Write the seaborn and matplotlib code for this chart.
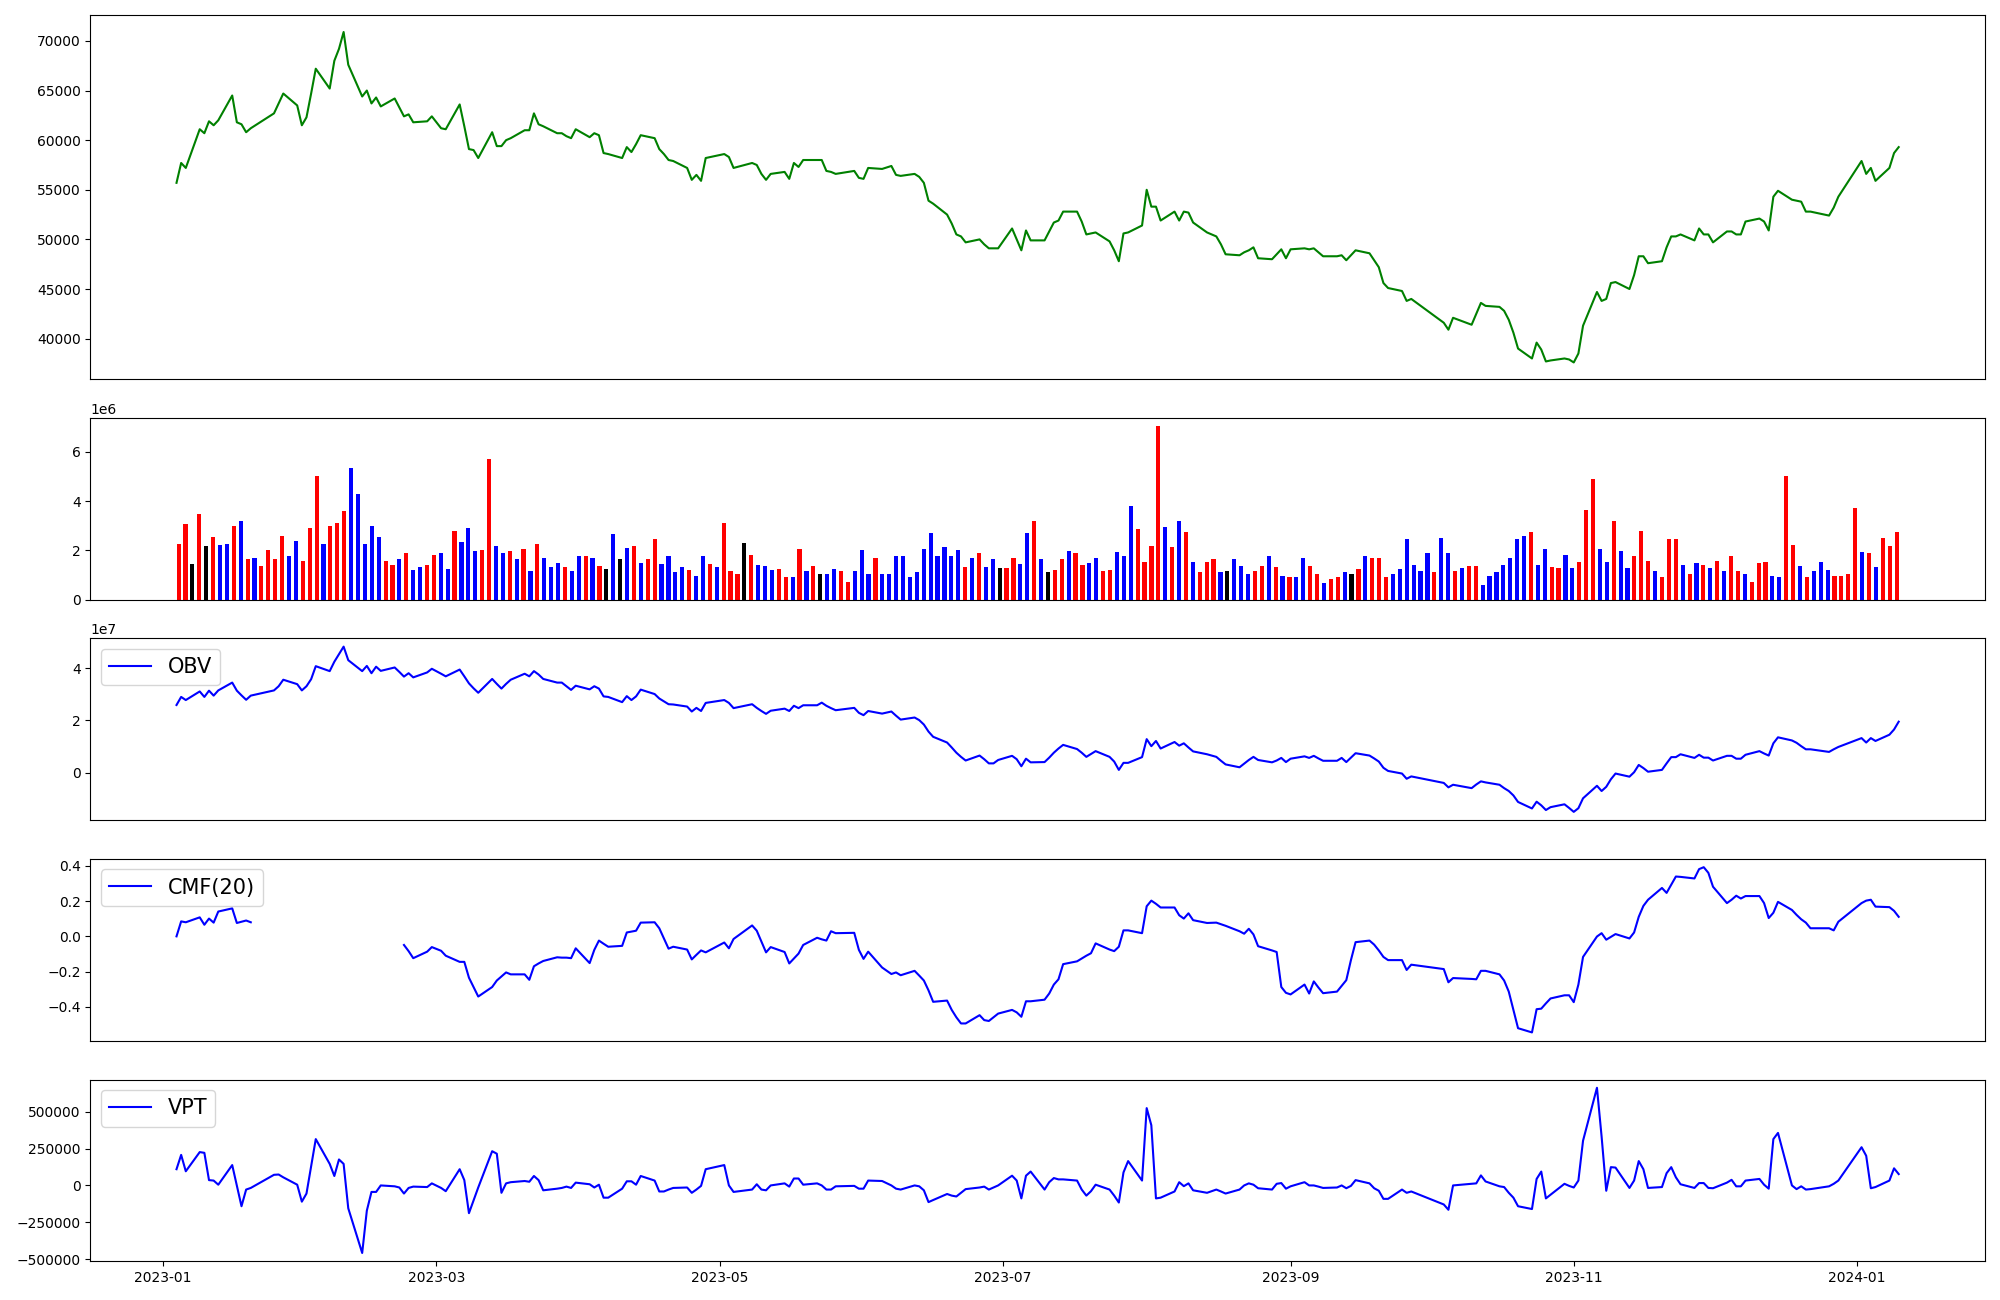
import numpy as np
import pandas as pd
import matplotlib
matplotlib.use("Agg")
import matplotlib.pyplot as plt
import seaborn as sns

# ---------------- trading calendar (KRX, 2023-01-04 .. 2024-01-10) ----------------
holidays = ["2023-01-23", "2023-01-24", "2023-03-01", "2023-05-01", "2023-05-05",
            "2023-05-29", "2023-06-06", "2023-08-15", "2023-09-28", "2023-09-29",
            "2023-10-02", "2023-10-03", "2023-10-09", "2023-12-25", "2023-12-29",
            "2024-01-01"]
trade_days = pd.bdate_range("2023-01-04", "2024-01-10")
trade_days = trade_days[~trade_days.isin(pd.to_datetime(holidays))]

# ---------------- close price ----------------
close = [
    # Jan 2023
    55700, 57700, 57200, 61100, 60700, 61900, 61500, 62000, 64500, 61800, 61600, 60800, 61200,
    62700, 63700, 64700, 63500, 61500,
    # Feb
    62300, 64700, 67200, 65200, 68000, 69200, 70900, 67600, 64400, 65000, 63700, 64300, 63400,
    64200, 63300, 62400, 62600, 61800, 61900, 62400,
    # Mar
    61200, 61100, 63600, 61400, 59100, 59000, 58200, 60800, 59400, 59400, 60000, 60200, 61000,
    61000, 62700, 61600, 61400, 60700, 60700, 60400, 60200, 61100,
    # Apr
    60300, 60700, 60500, 58700, 58600, 58200, 59300, 58800, 59600, 60500, 60200, 59100, 58600,
    58000, 57900, 57200, 56000, 56500, 55900, 58200,
    # May
    58600, 58300, 57200, 57700, 57500, 56600, 56000, 56600, 56800, 56100, 57700, 57300, 58000,
    58000, 58000, 56900, 56800, 56600, 56900, 56200,
    # Jun
    56100, 57200, 57100, 57400, 56500, 56400, 56600, 56300, 55700, 53900, 53600, 52500, 51600,
    50500, 50300, 49700, 50000, 49500, 49100, 49100, 49100,
    # Jul
    51100, 50000, 48900, 50900, 49900, 49900, 50800, 51700, 51900, 52800, 52800, 51800, 50500,
    50600, 50700, 49800, 48900, 47800, 50600, 50700, 51400,
    # Aug
    55000, 53300, 53300, 51900, 52800, 51900, 52800, 52700, 51700, 50700, 50300, 49500, 48500,
    48400, 48700, 48900, 49200, 48100, 48000, 48500, 49000, 48100,
    # Sep
    49000, 49100, 49000, 49100, 48700, 48300, 48300, 48400, 47900, 48400, 48900, 48600, 47900,
    47200, 45600, 45100, 44800, 43800, 44000,
    # Oct
    41600, 40900, 42100, 41400, 42500, 43600, 43300, 43200, 42800, 41900, 40600, 39000, 38000,
    39600, 38900, 37700, 37800, 38000, 37900,
    # Nov
    37600, 38500, 41300, 44700, 43800, 44000, 45600, 45700, 45000, 46400, 48300, 48300, 47600,
    47800, 49200, 50300, 50300, 50500, 49900, 51100, 50500, 50500,
    # Dec
    49700, 50800, 50800, 50500, 50500, 51800, 52100, 51800, 50900, 54300, 54900, 54000, 53900,
    53800, 52800, 52800, 52400, 53200, 54300,
    # Jan 2024
    57900, 56600, 57200, 55900, 57200, 58700, 59300,
]

# ---------------- volume (millions) and bar colour codes ----------------
volume_m = [
    2.27, 3.07, 1.46, 3.48, 2.19, 2.55, 2.22, 2.27, 3.00, 3.19,
    1.66, 1.70, 1.38, 2.02, 1.66, 2.58, 1.78, 2.39, 1.58, 2.92,
    5.01, 2.27, 3.00, 3.12, 3.60, 5.33, 4.29, 2.27, 3.00, 2.55,
    1.58, 1.41, 1.66, 1.90, 1.22, 1.34, 1.41, 1.82, 1.87, 1.26,
    2.80, 2.34, 2.92, 1.99, 2.02, 5.70, 2.19, 1.90, 1.99, 1.66,
    2.07, 1.14, 2.27, 1.70, 1.34, 1.50, 1.34, 1.17, 1.75, 1.75,
    1.70, 1.38,
    1.26, 2.67, 1.66, 2.10, 2.19, 1.50, 1.63, 2.46,
    1.46, 1.75, 1.10, 1.34, 1.22, 0.97, 1.78, 1.46, 1.34, 3.12,
    1.14, 1.05, 2.31, 1.82, 1.41, 1.38, 1.22, 1.26, 0.90, 0.93,
    2.07, 1.14, 1.38, 1.02, 1.02, 1.26, 1.17, 0.73, 1.17, 2.02,
    1.02, 1.70, 1.05, 1.02, 1.75, 1.75, 0.90, 1.10, 2.07, 2.71,
    1.75, 2.14, 1.75, 2.02, 1.34, 1.70, 1.87, 1.34, 1.66, 1.29,
    1.29, 1.70, 1.46, 2.71, 3.17,
    1.63, 1.10, 1.22, 1.66, 1.99,
    1.90, 1.41, 1.50, 1.70, 1.17, 1.22, 1.95, 1.78, 3.80, 2.87,
    1.54, 2.19, 7.03, 2.95, 2.14, 3.17, 2.75, 1.54, 1.10, 1.54,
    1.63, 1.10, 1.14, 1.66, 1.38, 1.02, 1.14, 1.38, 1.75, 1.34,
    0.97, 0.90, 0.90, 1.70, 1.38, 1.05, 0.69, 0.85, 0.93, 1.10,
    1.05, 1.26, 1.75, 1.70, 1.70, 0.90, 1.02, 1.26, 2.46, 1.41,
    1.14, 1.87, 1.10, 2.51, 1.87, 1.14, 1.29, 1.38, 1.38,
    0.61,
    0.97, 1.10, 1.41, 1.70, 2.46, 2.58, 2.75, 1.41, 2.07, 1.34,
    1.29, 1.82, 1.29, 1.54, 3.63, 4.89, 2.07, 1.54, 3.19, 1.99,
    1.29, 1.75, 2.80, 1.58, 1.17, 0.93, 2.46, 2.46, 1.41, 1.02,
    1.50, 1.41, 1.29, 1.58, 1.14, 1.78, 1.17, 1.05, 0.73, 1.50,
    1.54, 0.97, 0.90, 5.01, 2.22, 1.38, 0.93, 1.14, 1.54, 1.22,
    0.97, 0.97, 1.02, 3.72, 1.95, 1.90, 1.34, 2.51, 2.19, 2.75,
]
bar_codes = ("rrkrkrbbrb" "rbrrrrbbrr" "rbrrrbbbbb" "rrbrbbrrbb" "rbbbrrbbrb" "rbrbbbrbbr" "br"
             "kbkbrbrr" "bbbbrbbrbr" "rrkrbbbrrb" "rbrkbbrrbb" "brbbbbbbbb" "bbbbrbrbbk" "rrbbr"
             "bkrrb" "rrbbrrbbbr" "rrrbrbrbrr" "rbkbbbrrbr" "brbbrrbrrb" "krbrrrbbbb" "bbrbbrbrr"
             "b" "bbbbbbrbbr" "rbbrrrbbrb" "brrrbrrrbr" "brbrbrrbrr" "rbbrrbrbbb" "rrrrbrbrrr")

# ---------------- OBV (x1e7) ----------------
obv_e7 = [
    2.59, 2.90, 2.78, 3.11, 2.90, 3.14, 2.95, 3.15, 3.45, 3.14, 2.96, 2.79, 2.95, 3.15, 3.31, 3.56, 3.39, 3.15,
    3.31, 3.58, 4.08, 3.89, 4.25, 4.54, 4.83, 4.31, 3.89, 4.09, 3.81, 4.06, 3.90, 4.03, 3.86, 3.68, 3.81, 3.65, 3.84, 3.98,
    3.79, 3.69, 3.95, 3.69, 3.42, 3.23, 3.06, 3.59, 3.40, 3.22, 3.40, 3.56, 3.79, 3.69, 3.89, 3.76, 3.59, 3.45, 3.45, 3.31, 3.17, 3.33,
    3.19, 3.31, 3.22, 2.92, 2.90, 2.70, 2.93, 2.78, 2.92, 3.18, 3.01, 2.84, 2.73, 2.62, 2.61, 2.53, 2.34, 2.48, 2.36, 2.67,
    2.78, 2.67, 2.47, 2.62, 2.48, 2.36, 2.25, 2.37, 2.45, 2.36, 2.56, 2.47, 2.58, 2.58, 2.68, 2.56, 2.47, 2.39, 2.48, 2.29,
    2.20, 2.36, 2.26, 2.34, 2.18, 2.03, 2.11, 2.01, 1.84, 1.57, 1.37, 1.15, 0.96, 0.76, 0.60, 0.46, 0.65, 0.51, 0.35, 0.35, 0.48,
    0.64, 0.51, 0.24, 0.53, 0.39, 0.40, 0.57, 0.76, 0.92, 1.06, 0.90, 0.76, 0.60, 0.71, 0.82, 0.60, 0.42, 0.10, 0.37, 0.37, 0.59,
    1.28, 1.01, 1.21, 0.92, 1.17, 1.03, 1.12, 0.96, 0.81, 0.70, 0.60, 0.45, 0.31, 0.20, 0.34, 0.48, 0.60, 0.48, 0.39, 0.46, 0.56, 0.40,
    0.53, 0.62, 0.56, 0.64, 0.54, 0.45, 0.45, 0.56, 0.40, 0.57, 0.74, 0.65, 0.54, 0.42, 0.18, 0.06, -0.04, -0.24, -0.15,
    -0.40, -0.57, -0.47, -0.60, -0.46, -0.34, -0.38, -0.47, -0.60, -0.71, -0.88, -1.13, -1.38, -1.12, -1.26, -1.44, -1.33, -1.22, -1.36,
    -1.51, -1.37, -0.99, -0.51, -0.71, -0.55, -0.26, -0.04, -0.16, 0.01, 0.29, 0.17, 0.03, 0.10, 0.35, 0.59, 0.59, 0.70, 0.56, 0.68, 0.57, 0.57,
    0.46, 0.64, 0.64, 0.53, 0.53, 0.68, 0.82, 0.73, 0.65, 1.12, 1.35, 1.23, 1.14, 1.01, 0.89, 0.89, 0.79, 0.89, 0.98,
    1.32, 1.15, 1.32, 1.21, 1.45, 1.65, 1.95,
]

# ---------------- CMF(20) ----------------
nan = float("nan")
cmf20 = [
    0.0, 0.085, 0.080, 0.108, 0.066, 0.101, 0.078, 0.141, 0.159, 0.076, 0.083, 0.090, 0.080, nan, nan, nan, nan, nan,
    nan, nan, nan, nan, nan, nan, nan, nan, nan, nan, nan, nan, nan, nan, nan, -0.049, -0.084, -0.124, -0.087, -0.061,
    -0.082, -0.110, -0.145, -0.145, -0.235, -0.288, -0.342, -0.288, -0.251, -0.228, -0.205, -0.216, -0.216, -0.247, -0.170, -0.154, -0.140, -0.119, -0.121, -0.121, -0.124, -0.068,
    -0.152, -0.077, -0.024, -0.042, -0.059, -0.054, 0.022, 0.027, 0.032, 0.078, 0.080, 0.046, -0.012, -0.070, -0.059, -0.075, -0.131, -0.105, -0.080, -0.091,
    -0.035, -0.068, -0.015, 0.062, 0.032, -0.029, -0.091, -0.061, -0.089, -0.154, -0.126, -0.098, -0.049, -0.008, -0.017, -0.024, 0.029, 0.018, 0.020, -0.077,
    -0.128, -0.087, -0.177, -0.214, -0.205, -0.221, -0.196, -0.223, -0.251, -0.307, -0.372, -0.365, -0.418, -0.460, -0.495, -0.495, -0.448, -0.476, -0.481, -0.460, -0.439,
    -0.418, -0.432, -0.457, -0.369, -0.369, -0.360, -0.325, -0.274, -0.244, -0.158, -0.142, -0.126, -0.110, -0.096, -0.040, -0.075, -0.084, -0.059, 0.034, 0.034, 0.018,
    0.171, 0.203, 0.185, 0.164, 0.164, 0.120, 0.101, 0.131, 0.092, 0.076, 0.078, 0.069, 0.060, 0.029, 0.015, 0.043, 0.011, -0.056, -0.080, -0.089, -0.288, -0.321,
    -0.330, -0.274, -0.325, -0.256, -0.291, -0.323, -0.314, -0.281, -0.249, -0.135, -0.033, -0.024, -0.047, -0.080, -0.117, -0.135, -0.135, -0.191, -0.161,
    -0.186, -0.261, -0.237, -0.242, -0.244, -0.196, -0.196, -0.216, -0.251, -0.314, -0.418, -0.522, -0.546, -0.414, -0.411, -0.381, -0.353, -0.335, -0.335,
    -0.374, -0.274, -0.117, -0.001, 0.018, -0.019, -0.003, 0.013, -0.012, 0.022, 0.111, 0.173, 0.208, 0.275, 0.247, 0.294, 0.340, 0.338, 0.329, 0.382, 0.393, 0.361,
    0.282, 0.189, 0.208, 0.231, 0.215, 0.229, 0.229, 0.189, 0.104, 0.134, 0.196, 0.150, 0.122, 0.097, 0.078, 0.046, 0.046, 0.034, 0.083,
    0.189, 0.203, 0.208, 0.169, 0.166, 0.145, 0.111,
]

# ---------------- VPT (thousands) ----------------
vpt_k = [
    110, 207, 96, 226, 221, 36, 33, 5, 138, 0, -141, -28, -17, 72, 74, 55, 5, -110,
    -55, 130, 314, 146, 64, 176, 146, -155, -458, -171, -44, -44, 0, -6, -14, -55, -17, -8, -11, 14,
    -17, -39, 110, 36, -188, -102, -14, 232, 215, -50, 14, 22, 30, 25, 64, 36, -33, -22, -17, -8, -17, 19,
    8, -14, 5, -83, -83, -22, 28, 28, 5, 64, 33, -41, -41, -28, -17, -14, -50, -28, -3, 110,
    138, 0, -44, -28, 8, -28, -33, 0, 14, -8, 47, 47, 5, 14, 0, -28, -28, -6, -3, -22,
    -22, 33, 30, 0, -22, -28, 0, -6, -33, -113, -99, -58, -69, -75, -50, -25, -14, -8, -28, -14, 0,
    66, 33, -88, 66, 94, -28, 22, 50, 41, 41, 33, -28, -69, -39, 5, -28, -69, -116, 88, 165, 33,
    524, 408, -88, -83, -41, 22, -5, 14, -33, -50, -28, -41, -55, -28, 0, 14, 5, -19, -28, 11, 16, -22,
    -6, 22, 0, 0, -8, -17, -14, 0, -19, -3, 36, 14, -19, -36, -91, -91, -28, -50, -41,
    -129, -165, 0, 11, 14, 68, 27, -6, -11, -50, -83, -141, -160, 44, 94, -88, -63, 11, -3,
    -14, 33, 303, 662, 331, -36, 124, 121, -17, 33, 165, 110, -17, -11, 83, 124, 55, 8, -17, 16, 16, -17,
    -19, 19, 38, -6, -6, 33, 44, 5, -22, 314, 356, 0, -25, -6, -28, -25, -6, 11, 33,
    259, 201, -19, -11, 33, 116, 77,
]

# ---------------- build frames ----------------
n = len(trade_days)
df = pd.DataFrame({
    "date": trade_days,
    "close": close[:n],
    "obv": np.array(obv_e7[:n]) * 1e7,
    "cmf": cmf20[:n],
    "vpt": np.array(vpt_k[:n]) * 1e3,
})
color_map = {"r": "red", "b": "blue", "k": "black"}
bar_colors = [color_map[c] for c in bar_codes]
vol = np.array(volume_m) * 1e6

# ---------------- figure ----------------
fig = plt.figure(figsize=(20, 13), dpi=100)
gs = fig.add_gridspec(5, 1, height_ratios=[2, 1, 1, 1, 1], left=0.0452, right=0.9924,
                      top=0.9881, bottom=0.0298, hspace=0.178)
ax_p = fig.add_subplot(gs[0])
ax_v = fig.add_subplot(gs[1])
ax_o = fig.add_subplot(gs[2], sharex=ax_p)
ax_c = fig.add_subplot(gs[3], sharex=ax_p)
ax_t = fig.add_subplot(gs[4], sharex=ax_p)

sns.lineplot(data=df, x="date", y="close", color="green", ax=ax_p)

ax_v.bar(np.arange(len(vol)), vol, color=bar_colors, width=0.6)

sns.lineplot(data=df, x="date", y="obv", color="blue", label="OBV", ax=ax_o)

mask = df["cmf"].notna()
seg_id = (mask != mask.shift()).cumsum()
first = True
for sid, sub in df[mask].groupby(seg_id[mask]):
    sns.lineplot(data=sub, x="date", y="cmf", color="blue", ax=ax_c,
                 label="CMF(20)" if first else None)
    first = False

sns.lineplot(data=df, x="date", y="vpt", color="blue", label="VPT", ax=ax_t)

for ax in (ax_p, ax_v, ax_o, ax_c, ax_t):
    ax.set_xlabel("")
    ax.set_ylabel("")
for ax in (ax_p, ax_v, ax_o, ax_c):
    ax.tick_params(axis="x", bottom=False, labelbottom=False)

for ax in (ax_o, ax_c, ax_t):
    ax.legend(loc="upper left", fontsize=15)

fig.savefig("out.png", dpi=100)
